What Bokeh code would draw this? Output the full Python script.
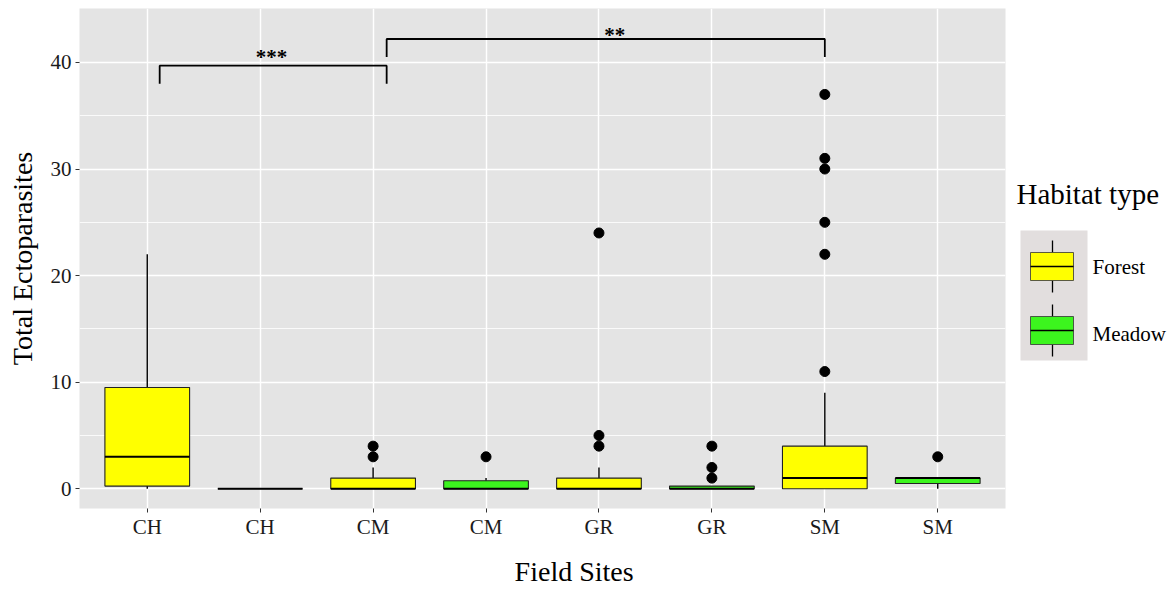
from bokeh.plotting import figure
from bokeh.layouts import row
from bokeh.models import Range1d, FixedTicker, LinearAxis, ColumnDataSource
from bokeh.embed import file_html
from bokeh.resources import INLINE
from bokeh.core.properties import value

# ---------------- data ----------------
sites = ["CH", "CH", "CM", "CM", "GR", "GR", "SM", "SM"]
habitats = ["Forest", "Meadow", "Forest", "Meadow", "Forest", "Meadow", "Forest", "Meadow"]
whisker_low = [0, 0, 0, 0, 0, 0, 0, 0]
q1 = [0.25, 0, 0, 0, 0, 0, 0, 0.5]
median = [3, 0, 0, 0, 0, 0, 1, 1]
q3 = [9.5, 0, 1, 0.75, 1, 0.25, 4, 1]
whisker_high = [22, 0, 2, 1, 2, 0.25, 9, 1]
outliers = [[], [], [3, 4], [3], [4, 5, 24], [1, 2, 4], [11, 22, 25, 30, 31, 37], [3]]
habitat_levels = ["Forest", "Meadow"]
habitat_colors = {"Forest": "#FFFF00", "Meadow": "#3CF51E"}
y_ticks = [0, 10, 20, 30, 40]
y_minor_ticks = [5, 15, 25, 35]

# significance brackets (annotation)
bracket_labels = ["***", "**"]
bracket_x0 = [0.11, 2.12]
bracket_x1 = [2.12, 6.0]
bracket_top = [39.7, 42.2]
bracket_drop = [38.0, 40.5]
bracket_label_x = [1.10, 4.14]
bracket_label_y = [40.55, 42.62]

X_TITLE = "Field Sites"
X_TITLE_POS = 3.78
Y_TITLE = "Total Ectoparasites"

SERIF = "Liberation Serif"
BOX_W = 0.75
PAGE_H = 589
TOP, BOTTOM = 8, 81
Y_MIN, Y_MAX = -1.85, 45.06

idx = list(range(len(sites)))
colors = [habitat_colors[h] for h in habitats]
src = ColumnDataSource(dict(
    x=idx, lo=whisker_low, q1=q1, med=median, q3=q3, hi=whisker_high,
    color=colors, xl=[i - BOX_W / 2 for i in idx], xr=[i + BOX_W / 2 for i in idx],
))
ox, oy = [], []
for i, vals in enumerate(outliers):
    for v in vals:
        ox.append(i)
        oy.append(v)

p = figure(
    width=1010, height=PAGE_H,
    min_border_left=79, min_border_right=5, min_border_top=TOP, min_border_bottom=BOTTOM,
    x_range=Range1d(-0.6, 7.6), y_range=Range1d(Y_MIN, Y_MAX),
    output_backend="svg", toolbar_location=None,
)
p.background_fill_color = "#E4E4E4"
p.border_fill_color = "white"
p.outline_line_color = None

xax = p.xaxis[0]
yax = p.yaxis[0]
xax.ticker = FixedTicker(ticks=idx)
xax.major_label_overrides = {i: s for i, s in enumerate(sites)}
yax.ticker = FixedTicker(ticks=y_ticks, minor_ticks=y_minor_ticks)
p.xgrid.grid_line_color = "white"
p.xgrid.grid_line_width = 1.5
p.ygrid.grid_line_color = "white"
p.ygrid.grid_line_width = 1.5
p.ygrid.minor_grid_line_color = "white"
p.ygrid.minor_grid_line_width = 0.8

for ax in (xax, yax):
    ax.axis_line_color = None
    ax.major_tick_line_color = "#333333"
    ax.major_tick_in = 0
    ax.major_tick_out = 4
    ax.minor_tick_line_color = None
    ax.major_label_text_font = SERIF
    ax.major_label_text_font_size = "21px"
    ax.major_label_text_color = "#1a1a1a"
xax.major_label_standoff = 2
yax.major_label_standoff = 4

yax.axis_label = Y_TITLE
yax.axis_label_text_font = SERIF
yax.axis_label_text_font_size = "28px"
yax.axis_label_text_font_style = "normal"
yax.axis_label_text_color = "black"
yax.axis_label_standoff = 10

# x-axis title, placed (as in the reference) right of the panel centre
title_axis = LinearAxis(ticker=FixedTicker(ticks=[X_TITLE_POS], minor_ticks=[]),
                        major_label_overrides={X_TITLE_POS: X_TITLE})
title_axis.axis_line_color = None
title_axis.major_tick_line_color = None
title_axis.minor_tick_line_color = None
title_axis.major_tick_in = 0
title_axis.major_tick_out = 0
title_axis.major_label_standoff = 14
title_axis.major_label_text_font = SERIF
title_axis.major_label_text_font_size = "28px"
title_axis.major_label_text_color = "black"
p.add_layout(title_axis, "below")

# boxes
p.segment(x0="x", y0="q3", x1="x", y1="hi", source=src, line_color="black", line_width=1.4)
p.segment(x0="x", y0="lo", x1="x", y1="q1", source=src, line_color="black", line_width=1.4)
p.vbar(x="x", width=BOX_W, bottom="q1", top="q3", source=src, fill_color="color",
       line_color="#222222", line_width=1.1)
p.segment(x0="xl", y0="med", x1="xr", y1="med", source=src, line_color="black", line_width=2)
p.scatter(ox, oy, size=10, color="black")

# brackets
for x0, x1, yt, yd in zip(bracket_x0, bracket_x1, bracket_top, bracket_drop):
    p.line([x0, x0, x1, x1], [yd, yt, yt, yd], line_color="black", line_width=1.8)
p.text(bracket_label_x, bracket_label_y, text=bracket_labels, text_align="center",
       text_baseline="alphabetic", text_font=value(SERIF), text_font_size="21px",
       text_font_style="bold", text_color="black")

# ---------------- legend panel (frame aligned with the main panel) ----------------
LW = 157
q = figure(width=LW, height=PAGE_H, min_border_left=0, min_border_right=0,
           min_border_top=TOP, min_border_bottom=BOTTOM,
           x_range=Range1d(0, LW), y_range=Range1d(PAGE_H - BOTTOM, TOP),
           output_backend="svg", toolbar_location=None)
q.axis.visible = False
q.grid.visible = False
q.outline_line_color = None
q.background_fill_color = "white"
q.border_fill_color = "white"

q.text([6], [193], text=["Habitat type"], text_baseline="middle", text_align="left",
       text_font=value(SERIF), text_font_size="29px", text_color="black")
q.quad(left=[10], right=[77], top=[230], bottom=[360], fill_color="#E2DEDE", line_color=None)
key_centers = [266, 330]
label_y = [266, 333]
for h, cy, ly in zip(habitat_levels, key_centers, label_y):
    q.segment([42, 42], [cy - 26, cy + 14], [42, 42], [cy - 14, cy + 26],
              line_color="black", line_width=1.3)
    q.quad(left=[20], right=[63], top=[cy - 14], bottom=[cy + 14],
           fill_color=habitat_colors[h], line_color="#333333", line_width=0.8)
    q.segment([20], [cy], [63], [cy], line_color="black", line_width=1.3)
    q.text([82], [ly], text=[h], text_baseline="middle", text_align="left",
           text_font=value(SERIF), text_font_size="21px", text_color="black")

layout = row(p, q)
open("out.html", "w").write(file_html(layout, INLINE))
